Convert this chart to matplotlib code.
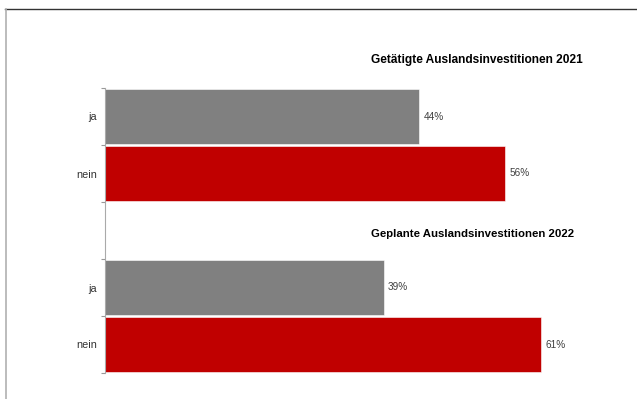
import matplotlib
matplotlib.use("Agg")
import matplotlib.pyplot as plt
from matplotlib.lines import Line2D

plt.rcParams['font.family'] = ['Liberation Sans', 'DejaVu Sans']

sections = ["Getätigte Auslandsinvestitionen 2021", "Geplante Auslandsinvestitionen 2022"]
answers = ["ja", "nein"]
shares_2021 = [44, 56]
shares_2022 = [39, 61]
colors = ["#808080", "#C00000"]

fig = plt.figure(figsize=(6.37, 3.99), dpi=100)
ax = fig.add_axes([105 / 637, 1 - 373 / 399, 500 / 637, 285 / 399])

# rows from top: ja, nein, gap (title), ja, nein
rows = [0, 1, 3, 4]
vals = shares_2021 + shares_2022
labels = answers + answers
ax.barh(rows, vals, height=0.95, color=colors * 2, edgecolor="white", linewidth=0.4)

for y, v in zip(rows, vals):
    ax.text(v + 0.6, y, f"{v}%", va="center", ha="left", fontsize=7.2, color="#404040")

ax.set_xlim(0, 70)
ax.set_ylim(4.5, -0.5)

ax.set_yticks(rows)
ax.set_yticklabels(labels, fontsize=7.8, color="#333333")
ax.tick_params(axis="y", which="major", length=0, pad=6)
ax.set_yticks([-0.5, 0.5, 1.5, 2.5, 3.5, 4.5], minor=True)
ax.tick_params(axis="y", which="minor", length=3, color="#999999", width=0.8)
ax.set_xticks([])

for s in ["top", "right", "bottom"]:
    ax.spines[s].set_visible(False)
ax.spines["left"].set_color("#aaaaaa")
ax.spines["left"].set_linewidth(0.8)

# section headings sit in the empty rows above each block
ax.text(37.2, -1.0, sections[0], fontsize=8.6, fontweight="bold", ha="left", va="center", clip_on=False)
ax.text(37.2, 2.06, sections[1], fontsize=8.2, fontweight="bold", ha="left", va="center", clip_on=False)

# outer frame lines
fig.add_artist(Line2D([5 / 637, 1], [1 - 9 / 399] * 2, color="#333333", linewidth=1.0, transform=fig.transFigure))
fig.add_artist(Line2D([6 / 637] * 2, [0, 1 - 9 / 399], color="#b0b0b0", linewidth=1.2, transform=fig.transFigure))

fig.savefig("out.png", dpi=100)
